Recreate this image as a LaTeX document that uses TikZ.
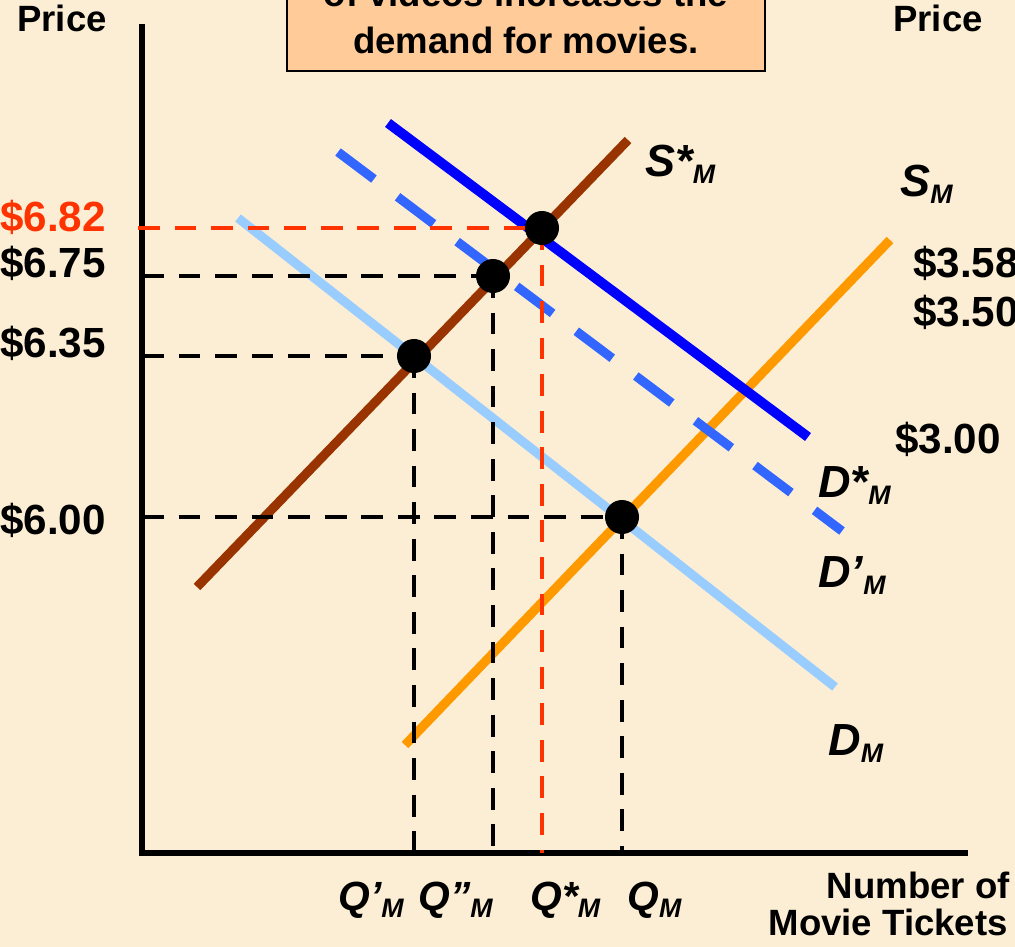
\documentclass[tikz,border=0pt]{standalone}
\usepackage{fontspec}
\setmainfont{Liberation Sans}
\usepackage{xcolor}
\usepackage{tikz}
\usetikzlibrary{positioning}
\definecolor{bgcol}{RGB}{251,238,212}
\definecolor{boxfill}{RGB}{255,204,153}
\definecolor{smbrown}{RGB}{153,51,0}
\definecolor{smorange}{RGB}{255,153,0}
\definecolor{dmlight}{RGB}{153,204,255}
\definecolor{dmblue}{RGB}{0,0,255}
\definecolor{dmdash}{RGB}{51,102,255}
\definecolor{pricered}{RGB}{255,51,0}
\newcommand{\subM}{\raisebox{-5pt}{\fontsize{19}{19}\selectfont M}}

\begin{document}
\begin{tikzpicture}[
x=0.025cm, y=-0.025cm,
axis/.style={line width=4.2pt},
curve/.style={line width=6.5pt},
guide/.style={line width=3.5pt, dash pattern=on 15.5pt off 10.5pt},
dot/.style={circle, fill=black, inner sep=0pt, minimum size=0.85cm},
price/.style={font=\fontsize{30}{34}\selectfont\bfseries, inner sep=0pt, anchor=base west},
axlbl/.style={font=\fontsize{26}{30}\selectfont\bfseries, inner sep=0pt},
crvlbl/.style={font=\fontsize{32}{36}\selectfont\bfseries\itshape, inner sep=0pt, anchor=base west},
qlbl/.style={font=\fontsize{29}{33}\selectfont\bfseries\itshape, inner sep=0pt, anchor=base west},
notebox/.style={draw, line width=1.5pt, fill=boxfill, minimum width=11.95cm, minimum height=3.3cm, inner sep=0pt},
notetxt/.style={font=\fontsize{26}{30}\selectfont\bfseries, inner sep=0pt, anchor=base}
]
\useasboundingbox (0,0) rectangle (1015,947);
\fill[bgcol] (0,0) rectangle (1015,947);

\node[notebox, anchor=south] (note) at (526,72) {};
\node[notetxt] (noteA) at (526,7) {of videos increases the};
\node[notetxt] (noteB) at (526,53) {demand for movies.};

\coordinate (top) at (142,24);
\coordinate (O) at (142,853);
\coordinate (xend) at (968,853);
\draw[axis] (top) -- (O) -- (xend);

\coordinate (ptA) at (414,356);
\coordinate (ptB) at (493,276);
\coordinate (ptC) at (542,228);
\coordinate (ptD) at (622,517);

\coordinate (dm0) at (238,218);  \coordinate (dm1) at (835,687);
\coordinate (sm0) at (405,745);  \coordinate (sm1) at (890,240);
\coordinate (ss0) at (197,587);  \coordinate (ss1) at (628,140);
\coordinate (ds0) at (388,123);  \coordinate (ds1) at (808,437);
\coordinate (dp0) at (338,152);  \coordinate (dp1) at (842,531);
\draw[curve, dmlight] (dm0) -- (dm1);
\draw[curve, smorange] (sm0) -- (sm1);
\draw[curve, smbrown] (ss0) -- (ss1);
\draw[curve, dmblue, line width=7pt] (ds0) -- (ds1);
\draw[curve, dmdash, dash pattern=on 32pt off 21pt] (dp0) -- (dp1);

\draw[guide] (O |- ptA) -- (ptA);
\draw[guide] (ptA) -- (ptA |- O);
\draw[guide] (O |- ptB) -- (ptB);
\draw[guide] (ptB) -- (ptB |- O);
\draw[guide] (O |- ptD) -- (ptD);
\draw[guide] (ptD) -- (ptD |- O);
\draw[guide, pricered] ([xshift=-0.1cm]O |- ptC) -- (ptC);
\draw[guide, pricered] (ptC) -- (ptC |- O);

\node[dot] (eqA) at (ptA) {};
\node[dot] (eqB) at (ptB) {};
\node[dot] (eqC) at (ptC) {};
\node[dot] (eqD) at (ptD) {};

\node[axlbl, anchor=base west] (pleft) at (17,31) {Price};
\node[axlbl, anchor=base west] (pright) at (893,31) {Price};
\node[axlbl, anchor=base east] (qaxA) at (1010,898) {Number of};
\node[axlbl, anchor=base east] (qaxB) at (1008,935) {Movie Tickets};

\node[price, text=pricered] (p682) at (0,231) {\$6.82};
\node[price] (p675) at (0,277) {\$6.75};
\node[price] (p635) at (0,357) {\$6.35};
\node[price] (p600) at (0,534) {\$6.00};
\node[price] (p358) at (913,277) {\$3.58};
\node[price] (p350) at (913,326) {\$3.50};
\node[price] (p300) at (895,453) {\$3.00};

\node[crvlbl] (lss) at (645,176) {S*\subM};
\node[crvlbl] (lsm) at (900,196) {S\subM};
\node[crvlbl] (lds) at (818,497) {D*\subM};
\node[crvlbl] (ldp) at (818,587) {D’\subM};
\node[crvlbl] (ldm) at (828,755) {D\subM};

\node[qlbl] (qA) at (338,910) {Q’\subM};
\node[qlbl] (qB) at (418,910) {Q”\subM};
\node[qlbl] (qC) at (530,910) {Q*\subM};
\node[qlbl] (qD) at (627,910) {Q\subM};
\end{tikzpicture}
\end{document}
